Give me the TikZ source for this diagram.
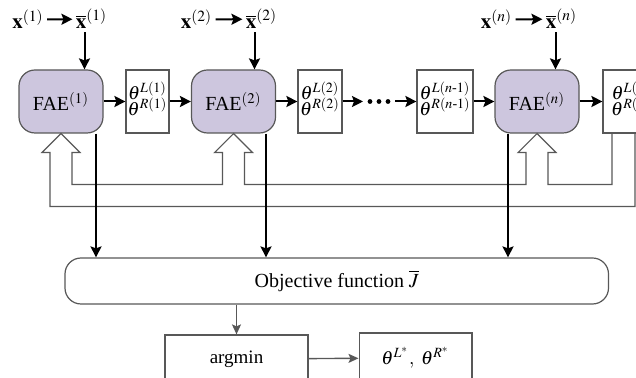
\documentclass[tikz,border=0pt]{standalone}
\usepackage{amsmath}
\usepackage{mathptmx}
\usepackage[no-math]{fontspec}
\setmainfont{Liberation Serif}
\usepackage{tikz}
\usetikzlibrary{calc}
\usetikzlibrary{arrows.meta}

\definecolor{faefill}{RGB}{205,198,222}
\definecolor{linegray}{RGB}{88,88,88}
\setlength{\lineskiplimit}{-5pt}

\begin{document}
\begin{tikzpicture}[x=0.5pt,y=-0.5pt]
    \tikzstyle{every node}=[font=\fontsize{10}{12}\selectfont]
    \tikzstyle{fae}=[draw=linegray,line width=0.6pt,fill=faefill,rounded corners=8pt,minimum width=42pt,minimum height=31.5pt,inner sep=0pt]
    \tikzstyle{para}=[draw=linegray,line width=0.6pt,minimum height=31.5pt,inner sep=0pt]
    \tikzstyle{paratext}=[inner sep=0pt,align=center,font=\fontsize{9.5}{8}\selectfont]
    \tikzstyle{input}=[anchor=base,inner sep=1.5pt,font=\fontsize{10.5}{12}\selectfont]
    \tikzstyle{flow}=[line width=1pt,-{Stealth[length=5.5pt,width=5.5pt,inset=1pt]}]
    \tikzstyle{gflow}=[linegray,line width=0.7pt,-{Stealth[length=5pt,width=4.5pt,inset=1pt]}]
    \tikzstyle{band}=[linegray,line width=0.6pt]

    \useasboundingbox (0,0) rectangle (636,378);

    % encoders
    \node[fae] (fae1) at (61,101.5) {FAE$^{(1)}$};
    \node[fae] (fae2) at (233.5,101.5) {FAE$^{(2)}$};
    \node[fae] (faen) at (537,101.5) {FAE$^{(n)}$};

    % parameter boxes
    \node[para,minimum width=21.5pt] (th1) at (147.5,101.5) {};
    \node[para,minimum width=22pt] (th2) at (320,101.5) {};
    \node[para,minimum width=28pt] (thm) at (445,101.5) {};
    \node[para,minimum width=28pt] (thn) at (631,101.5) {};
    \node[paratext] at ([yshift=1.5pt]th1) {$\theta^{L(1)}$\\$\theta^{R(1)}$};
    \node[paratext] at ([yshift=1.5pt]th2) {$\theta^{L(2)}$\\$\theta^{R(2)}$};
    \node[paratext] at ([yshift=1.5pt]thm) {$\theta^{L(n\text{-}1)}$\\$\theta^{R(n\text{-}1)}$};
    \node[paratext] at ([yshift=1.5pt]thn) {$\theta^{L(n)}$\\$\theta^{R(n)}$};

    % inputs
    \node[input] (x1) at (28,29) {$\mathbf{x}^{(1)}$};
    \node[input] (xb1) at (91.5,29) {$\overline{\mathbf{x}}^{(1)}$};
    \node[input] (x2) at (196.5,29) {$\mathbf{x}^{(2)}$};
    \node[input] (xb2) at (261.5,29) {$\overline{\mathbf{x}}^{(2)}$};
    \node[input] (xn) at (496.5,29) {$\mathbf{x}^{(n)}$};
    \node[input] (xbn) at (561.5,29) {$\overline{\mathbf{x}}^{(n)}$};

    % objective and result
    \node[draw=linegray,line width=0.6pt,rounded corners=8pt,minimum width=271.75pt,minimum height=23pt] (obj) at (336.75,281) {Objective function $\overline{J}$};
    \node[draw=linegray,line width=0.6pt,minimum width=71.5pt,minimum height=24pt,font=\fontsize{9.5}{11}\selectfont] (argmin) at (236.5,359) {argmin};
    \node[draw=linegray,line width=0.6pt,minimum width=56.4pt,minimum height=25pt,font=\fontsize{9.5}{11}\selectfont] (opt) at (415.5,358) {$\theta^{L^*},\ \theta^{R^*}$};

    % feedback band
    \coordinate (retin) at (612,133);
    \coordinate (retout) at (635,133);
    \coordinate (lowin) at (0,184.5);
    \coordinate (lowout) at (0,206.5);
    \foreach \k in {1,2,n} {
        \coordinate (sl\k) at ($(fae\k.south)+(-11,0)$);
        \coordinate (sr\k) at ($(fae\k.south)+(11,0)$);
    }
    \draw[band] (retin) -- (retin |- lowin) -- (srn |- lowin)
        -- ([shift={(0,19)}]srn) -- ([shift={(8,19)}]srn) -- (faen.south)
        -- ([shift={(-8,19)}]sln) -- ([shift={(0,19)}]sln) -- (sln |- lowin)
        -- (sr2 |- lowin) -- ([shift={(0,19)}]sr2) -- ([shift={(8,19)}]sr2) -- (fae2.south)
        -- ([shift={(-8,19)}]sl2) -- ([shift={(0,19)}]sl2) -- (sl2 |- lowin)
        -- (sr1 |- lowin) -- ([shift={(0,19)}]sr1) -- ([shift={(8,19)}]sr1) -- (fae1.south)
        -- ([shift={(-8,19)}]sl1) -- ([shift={(0,19)}]sl1) -- (sl1 |- lowout)
        -- (retout |- lowout) -- (retout);

    % forward chain
    \coordinate (dotl) at (363,101.5);
    \coordinate (dotr) at (395,101.5);
    \draw[flow] (fae1) -- (th1);
    \draw[flow] (th1) -- (fae2);
    \draw[flow] (fae2) -- (th2);
    \draw[flow] (th2) -- (dotl);
    \foreach \d in {370,379,388} \fill (\d,101.5) circle (1.2pt);
    \draw[flow] (dotr) -- (thm);
    \draw[flow] (thm) -- (faen);
    \draw[flow] (faen) -- (thn);

    % inputs into encoders
    \draw[flow] (x1) -- (xb1);
    \draw[flow] (x2) -- (xb2);
    \draw[flow] (xn) -- (xbn);
    \draw[flow] ([xshift=-3.5pt]xb1.south) -- ([xshift=-3.5pt]xb1.south |- fae1.north);
    \draw[flow] ([xshift=-3.5pt]xb2.south) -- ([xshift=-3.5pt]xb2.south |- fae2.north);
    \draw[flow] ([xshift=-3pt]xbn.south) -- ([xshift=-3pt]xbn.south |- faen.north);

    % encoders into objective
    \coordinate (o1) at (96,0);
    \coordinate (o2) at (266,0);
    \coordinate (on) at (508,0);
    \draw[flow] (fae1.south -| o1) -- (o1 |- obj.north);
    \draw[flow] (fae2.south -| o2) -- (o2 |- obj.north);
    \draw[flow] (faen.south -| on) -- (on |- obj.north);

    % minimisation
    \draw[gflow] (obj.south -| argmin) -- (argmin);
    \draw[gflow] (argmin) -- (opt);
\end{tikzpicture}
\end{document}
